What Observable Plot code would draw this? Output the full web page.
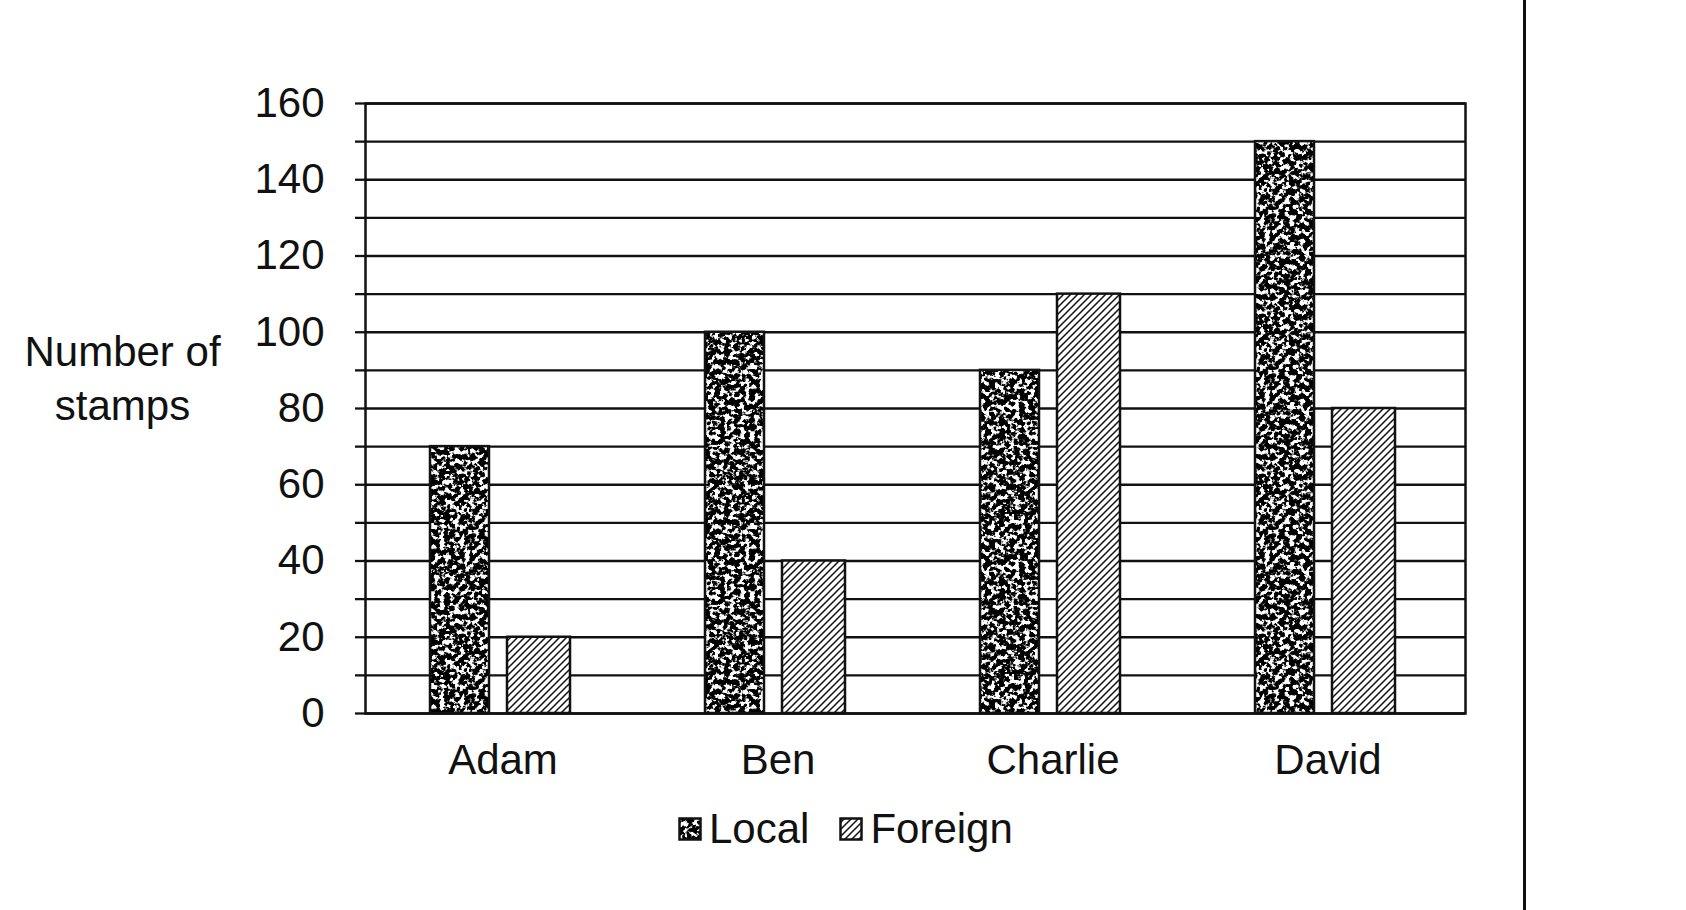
<!DOCTYPE html>
<html>
<head>
<meta charset="utf-8">
<script src="https://cdn.jsdelivr.net/npm/d3@7"></script>
<script src="https://cdn.jsdelivr.net/npm/@observablehq/plot@0.6"></script>
<style>
  body { margin: 0; background: #fff; }
  #wrap { position: relative; width: 1686px; height: 910px; overflow: hidden;
          font-family: "Liberation Sans", Arial, sans-serif; color: #111; }
  #legend { position: absolute; left: 678px; top: 803px; display: flex; align-items: center;
            font-size: 42px; line-height: 52px; }
  #legend span.item { display: flex; align-items: center; margin-right: 30px; }
  #legend svg { margin-right: 7px; }
  #edge { position: absolute; left: 1523px; top: 0; width: 3px; height: 910px; background: #111; }
</style>
</head>
<body>
<div id="wrap">
  <div id="chart"></div>
  <div id="legend"></div>
  <div id="edge"></div>
</div>
<script>
// values
const names = ["Adam", "Ben", "Charlie", "David"];
const local = [70, 100, 90, 150];
const foreign = [20, 40, 110, 80];
const series = ["Local", "Foreign"];
const yTicks = [0, 20, 40, 60, 80, 100, 120, 140, 160];
const gridLines = [0, 10, 20, 30, 40, 50, 60, 70, 80, 90, 100, 110, 120, 130, 140, 150, 160];
const yLabel = "Number of\nstamps";

const rows = names.flatMap((name, i) => [
  {name, type: "Local", value: local[i]},
  {name, type: "Foreign", value: foreign[i]}
]);

const chart = Plot.plot({
  width: 1686,
  height: 910,
  marginLeft: 365,
  marginRight: 221,
  marginTop: 103,
  marginBottom: 197,
  style: {background: "#fff", color: "#111", fontFamily: "'Liberation Sans', Arial, sans-serif"},
  x: {domain: names, padding: 0},
  y: {domain: [0, 160]},
  marks: [
    Plot.ruleY(gridLines, {stroke: "#111", strokeWidth: 2.3}),
    Plot.barY(rows.filter(d => d.type === "Local"), {
      x: "name", y: "value", fill: "url(#local)", stroke: "#111", strokeWidth: 2.5,
      insetLeft: 65, insetRight: 151
    }),
    Plot.barY(rows.filter(d => d.type === "Foreign"), {
      x: "name", y: "value", fill: "url(#foreign)", stroke: "#111", strokeWidth: 2.5,
      insetLeft: 142, insetRight: 70
    }),
    Plot.frame({stroke: "#111", strokeWidth: 2.5}),
    Plot.axisY({
      ticks: gridLines, tickSize: 10, tickPadding: 31, fontSize: 42,
      strokeWidth: 2.3, label: null,
      tickFormat: d => yTicks.includes(d) ? d : ""
    }),
    Plot.axisX({tickSize: 0, tickPadding: 31, fontSize: 42, label: null}),
    Plot.text([yLabel], {
      frameAnchor: "left", dx: -243, dy: -33, textAnchor: "middle",
      fontSize: 42, lineHeight: 1.29
    })
  ]
});

chart.insertAdjacentHTML("afterbegin", `
<defs>
  <filter id="speckle" x="0" y="0" width="100%" height="100%">
    <feTurbulence type="fractalNoise" baseFrequency="0.2" numOctaves="3" seed="11" stitchTiles="stitch"/>
    <feColorMatrix type="matrix" values="0 0 0 0 0  0 0 0 0 0  0 0 0 0 0  -9 0 0 0 5.4"/>
  </filter>
  <pattern id="local" patternUnits="userSpaceOnUse" width="160" height="160">
    <rect width="160" height="160" fill="#fff"/>
    <rect width="160" height="160" fill="#000" filter="url(#speckle)"/>
  </pattern>
  <pattern id="foreign" patternUnits="userSpaceOnUse" width="7" height="7">
    <rect width="7" height="7" fill="#fff"/>
    <path d="M-1,1 l2,-2 M0,7 l7,-7 M6,8 l2,-2" stroke="#111" stroke-width="1.5"/>
  </pattern>
</defs>`);

d3.select("#chart").append(() => chart);

// legend below the chart, same fills
d3.select("#legend").selectAll("span")
  .data(series)
  .join("span")
  .attr("class", "item")
  .html(d => `<svg width="24" height="24"><rect x="1.5" y="1.5" width="21" height="21"
      fill="url(#${d.toLowerCase()})" stroke="#111" stroke-width="2.5"/></svg>${d}`);
</script>
</body>
</html>
